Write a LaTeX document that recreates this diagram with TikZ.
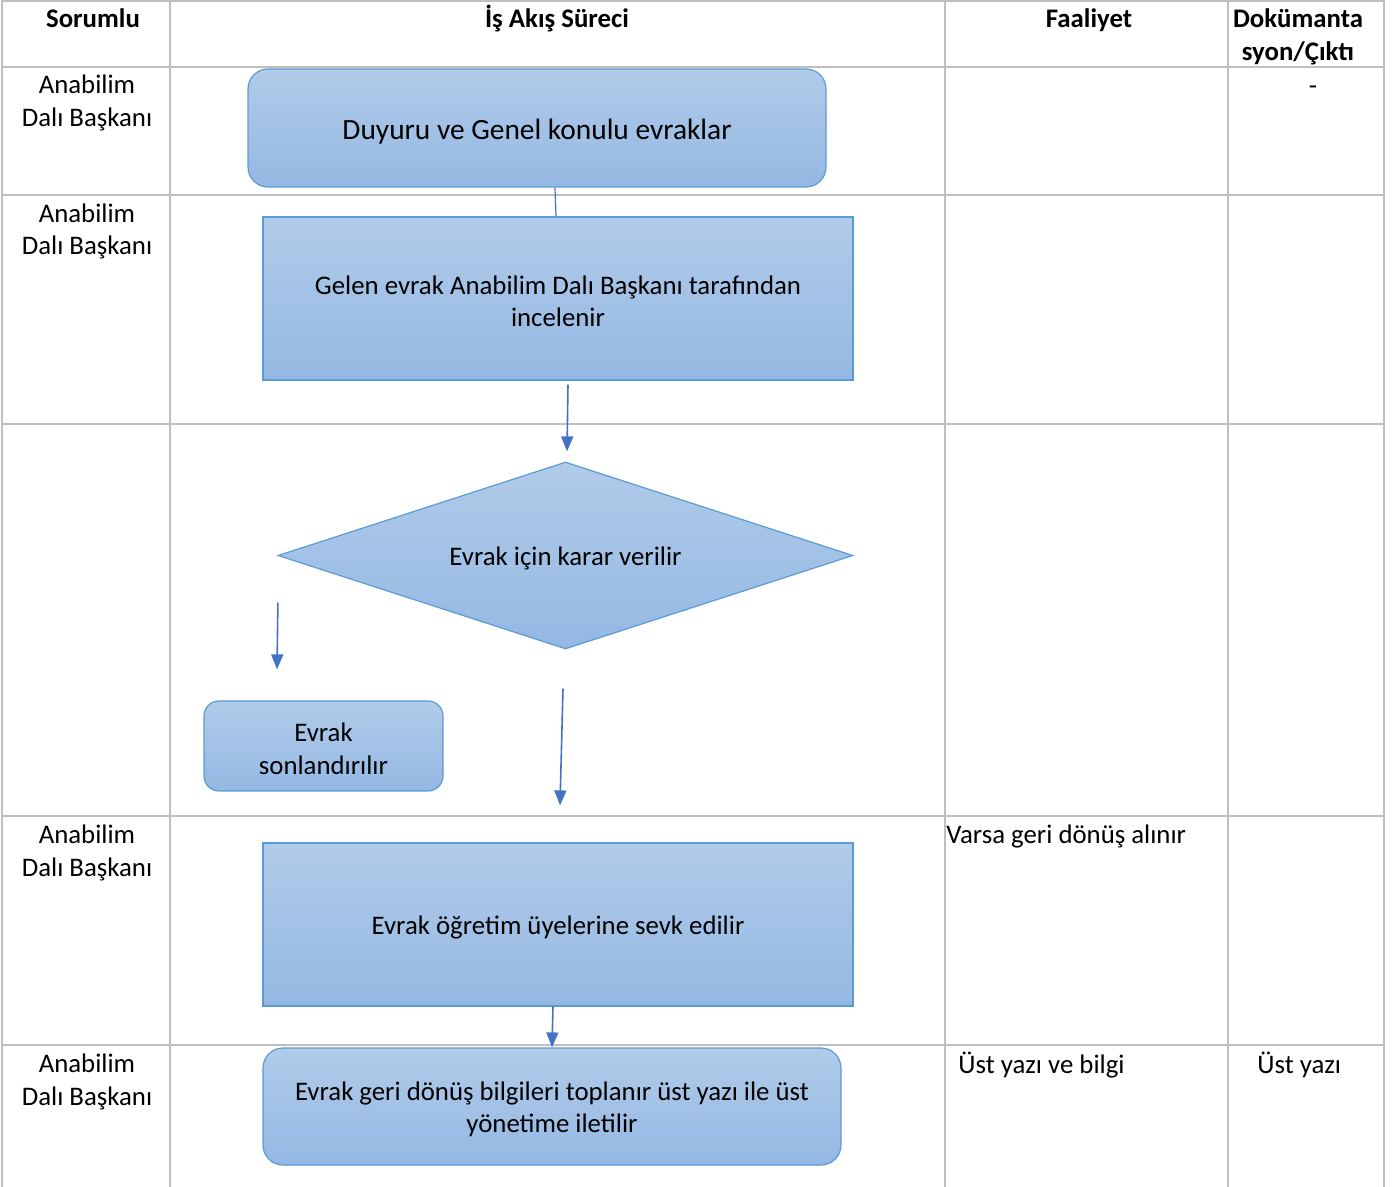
\documentclass[tikz,border=0pt]{standalone}
\usepackage{fontspec}
\setmainfont{Carlito}
\usetikzlibrary{shapes.geometric,arrows.meta}
\definecolor{gridc}{HTML}{BFBFBF}
\definecolor{fillT}{HTML}{B1CBE9}
\definecolor{fillB}{HTML}{94B8E3}
\definecolor{edgec}{HTML}{5B9BD5}
\definecolor{arrc}{HTML}{4472C4}
\newcommand{\tstrut}{\rule{0pt}{12.2pt}}
\begin{document}
\begin{tikzpicture}[x=0.5pt,y=-0.5pt,
  font=\fontsize{13.4}{16.2}\selectfont,
  gridline/.style={draw=gridc,line width=1pt},
  flowbox/.style={draw=edgec,line width=0.6pt,top color=fillT,bottom color=fillB,align=center,inner sep=0pt},
  roundbox/.style={flowbox,rounded corners=10pt},
  decision/.style={flowbox,diamond,aspect=3.07},
  flowarrow/.style={draw=arrc,line width=0.8pt,-{Triangle[width=6pt,length=7.5pt]}},
  flowline/.style={draw=arrc,line width=0.6pt},
  cell/.style={align=center,inner sep=0pt},
  hdr/.style={cell,font=\fontsize{13.4}{16.2}\selectfont\bfseries}]
\useasboundingbox (0,0) rectangle (1394,1187);
% table grid
\foreach \yy in {1,67,195,424,816,1045}
  \draw[gridline] (2,\yy) -- (1384,\yy);
\foreach \xx in {2,170,945,1228,1384}
  \draw[gridline] (\xx,0) -- (\xx,1187);
% header
\node[hdr,anchor=base] (hSor) at (93,28) {Sorumlu};
\node[hdr,anchor=base] (hIs) at (557,28) {İş Akış Süreci};
\node[hdr,anchor=base] (hFa) at (1089,28) {Faaliyet};
\node[hdr] (hDo) at (1298,37) {Dokümanta\\syon/Çıktı};
% responsible column
\node[cell] (r1) at (87,103) {Anabilim\\Dalı Başkanı};
\node[cell] (r2) at (87,231.5) {Anabilim\\Dalı Başkanı};
\node[cell] (r4) at (87,853) {Anabilim\\Dalı Başkanı};
\node[cell] (r5) at (87,1082) {Anabilim\\Dalı Başkanı};
% activity / documentation
\node[cell,anchor=base] (d1) at (1313,95) {-};
\node[cell,anchor=base west] (f4) at (946,843) {Varsa geri dönüş alınır};
\node[cell,anchor=base west] (f5) at (958,1073) {Üst yazı ve bilgi};
\node[cell,anchor=base west] (d5) at (1257,1073) {Üst yazı};
% flow shapes
\node[roundbox,minimum width=289pt,minimum height=59pt,font=\fontsize{14.7}{17.8}\selectfont] (b1) at (537,128) {\rule{0pt}{13.4pt}Duyuru ve Genel konulu evraklar};
\node[flowbox,minimum width=295pt,minimum height=81.5pt] (b2) at (558,298.5) {\tstrut Gelen evrak Anabilim Dalı Başkanı tarafından\\incelenir};
\node[decision,minimum width=287.5pt,minimum height=93.5pt] (dec) at (565.5,555.5) {\tstrut Evrak için karar verilir};
\node[flowbox,rounded corners=7.5pt,minimum width=119.5pt,minimum height=45pt] (b3) at (323.5,746) {\tstrut Evrak\\sonlandırılır};
\node[flowbox,minimum width=295pt,minimum height=81.5pt] (b4) at (558,924.5) {\tstrut Evrak öğretim üyelerine sevk edilir};
\node[roundbox,minimum width=289pt,minimum height=58.5pt] (b5) at (552,1106.5) {\tstrut Evrak geri dönüş bilgileri toplanır üst yazı ile üst\\yönetime iletilir};
% connectors
\draw[flowline] ([xshift=9pt]b1.south) -- ([xshift=-1pt]b2.north);
\draw[flowarrow] ([xshift=5pt,yshift=-2pt]b2.south) -- ([xshift=0.75pt,yshift=5pt]dec.north);
\draw[flowarrow] ([xshift=0.25pt,yshift=-23.5pt]dec.west) -- ([xshift=-23.25pt,yshift=15.5pt]b3.north);
\draw[flowarrow] ([xshift=-1.25pt,yshift=-19.5pt]dec.south) -- ([xshift=1pt,yshift=18.5pt]b4.north);
\draw[flowarrow] ([xshift=-2.5pt]b4.south) -- (b5.north);
\end{tikzpicture}
\end{document}
